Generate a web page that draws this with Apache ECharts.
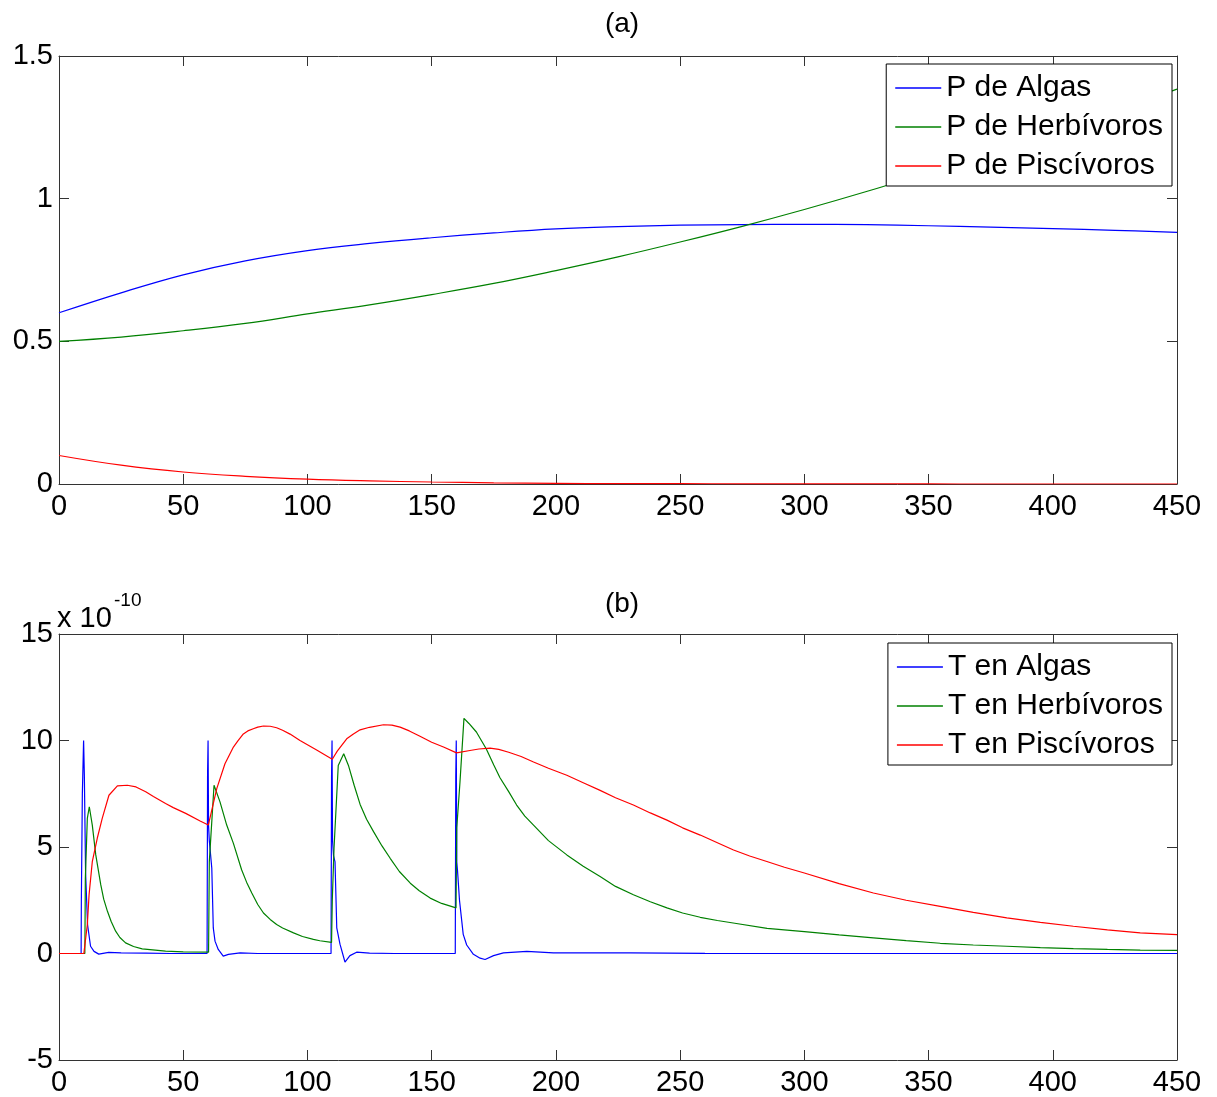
<!DOCTYPE html>
<html>
<head>
<meta charset="utf-8">
<script src="https://cdn.jsdelivr.net/npm/echarts@6/dist/echarts.min.js"></script>
<style>
html,body{margin:0;padding:0;background:#fff;}
#c{width:1217px;height:1097px;}
</style>
</head>
<body>
<div id="c"></div>
<script>
// ---------- Panel (a): populations ----------
const tA = [0,25,50,75,100,125,150,175,200,225,250,275,300,325,350,375,400,425,450];
const pAlgas = [0.600,0.670,0.733,0.782,0.818,0.843,0.863,0.880,0.894,0.902,0.907,0.909,0.910,0.909,0.905,0.900,0.895,0.889,0.882];
const pHerb  = [0.500,0.515,0.537,0.563,0.596,0.628,0.664,0.703,0.748,0.796,0.848,0.903,0.962,1.025,1.092,1.160,1.232,1.306,1.384];
const pPisc  = [0.100,0.066,0.042,0.027,0.017,0.011,0.007,0.004,0.002,0.001,0.001,0.0005,0.0003,0.0002,0.0001,0,0,0,0];
const namesA = ['P de Algas','P de Herbívoros','P de Piscívoros'];

// ---------- Panel (b): toxin (units of 1e-10) ----------
const tAlgasT = [0,8.9,9.0,9.4,9.9,10.2,10.7,11.5,12.7,14.1,16,20,25,35,45,59.6,
  59.8,60.0,60.2,60.5,61.5,62.1,62.8,64.1,66.1,68.2,72.9,80,90,100,109.5,
  109.7,109.9,110.1,110.5,111.1,111.8,113.1,115.1,117.1,119.8,125,135,145,155,159.5,
  159.7,159.9,160.1,160.4,161.2,162.7,164.1,166.8,169.5,171.5,174.9,178.9,188.3,199,230,260,300,350,400,450];
const vAlgasT = [0,0,2.5,7.5,10,8.4,3.8,1.35,0.34,0.1,-0.03,0.05,0.03,0.02,0,0,
  8.4,10,6,5.3,4.0,1.2,0.58,0.19,-0.12,-0.04,0.03,0,0,0,0,
  8.3,10,5.3,4.6,4.3,1.2,0.44,-0.4,-0.1,0.06,0.02,0,0,0,0,
  8.3,10,4.3,3.9,2.5,0.9,0.4,-0.04,-0.22,-0.28,-0.1,0.03,0.1,0.03,0.03,0.01,0,0,0,0];

const tHerbT = [0,10.4,10.6,11.4,12.2,13.4,14.8,16.8,18,19.5,21,22.8,24.5,26.8,30,33.5,42.9,50,60.2,
  60.5,62.4,62.8,64.8,67.5,70.2,73.5,75.5,77.6,80,82.3,85,87.6,90,94.4,98,102.4,105,109.7,
  110.0,110.7,112.4,113.1,114.6,116.5,118.8,121.2,123.8,126.6,130,133.3,137,141.4,145,149.4,154,159.8,
  160.1,161.4,163.0,165,168,172,175,177.5,181,184.2,187.5,191.0,197,204.4,211,217.8,224,231.2,238,244.7,251,258.1,265,272,285,300,314,327.8,341,354.7,368,381.5,395,408.3,422,435.2,450];
const vHerbT = [0,0,3.5,6.34,6.89,6.03,4.63,3.23,2.55,1.98,1.5,1.05,0.75,0.5,0.33,0.22,0.11,0.08,0.06,
  4.3,7.9,7.93,7.12,6.03,5.17,3.93,3.35,2.84,2.3,1.9,1.6,1.36,1.2,0.97,0.8,0.66,0.6,0.52,
  2.5,4.94,8.83,9.0,9.38,8.83,7.9,7.0,6.3,5.72,5.05,4.47,3.85,3.3,2.95,2.6,2.35,2.14,
  5.9,8.05,11.04,10.8,10.4,9.6,8.85,8.25,7.6,6.97,6.45,6.03,5.3,4.63,4.1,3.62,3.15,2.76,2.43,2.14,1.9,1.70,1.55,1.42,1.18,1.03,0.87,0.73,0.6,0.48,0.4,0.34,0.28,0.23,0.19,0.16,0.15];

const tPiscT = [0,10.0,11.4,12.1,13.4,15.4,17.4,20.1,23.5,27.5,31,34.9,38,42.9,46,51,56.8,60.1,
  63.5,66.8,70.2,72,74.2,76,78.2,80,82.3,85,87.6,90,93,97,103.7,110.0,
  112,115.8,118.5,121.2,125,130.6,134,137.3,141,145.3,150,155,160.0,165.4,169,173.5,177,181,186,191.0,197,204.4,211,217.8,224,231.2,238,244.7,251,258.1,265,271.5,278,284.9,292,300,314,327.8,341,354.7,368,381.5,395,408.3,422,435.2,450];
const vPiscT = [0,0,1.35,2.75,4.31,5.41,6.34,7.43,7.87,7.9,7.82,7.59,7.37,7.04,6.85,6.58,6.22,6.03,
  7.74,8.91,9.69,9.98,10.31,10.45,10.55,10.63,10.68,10.67,10.6,10.48,10.3,10.0,9.55,9.12,
  9.5,10.08,10.31,10.5,10.62,10.74,10.72,10.63,10.45,10.2,9.92,9.68,9.42,9.53,9.6,9.64,9.58,9.45,9.25,8.99,8.7,8.37,8.02,7.66,7.31,6.97,6.6,6.26,5.9,5.56,5.2,4.86,4.58,4.32,4.05,3.78,3.28,2.84,2.5,2.21,1.93,1.67,1.46,1.28,1.11,0.97,0.89];
const namesB = ['T en Algas','T en Herbívoros','T en Piscívoros'];

const xTicks = {min:0, max:450, interval:50};
const yTicksA = {min:0, max:1.5, interval:0.5};
const yTicksB = {min:-5, max:15, interval:5};

const colors = ['#0000ff','#008000','#ff0000'];
const FONT = '"Liberation Sans", Arial, Helvetica, sans-serif';
const AX = '#333333';

function zip(t, v){ return t.map((x,i)=>[x, v[i]]); }

function xAxisDef(grid, pos, showLabel){
  return Object.assign({
    gridIndex: grid, type:'value', position: pos,
    axisLine:{show:true, onZero:false, lineStyle:{color:AX, width:1}},
    axisTick:{show:true, inside:true, length:10, lineStyle:{color:AX, width:1}},
    axisLabel:{show:showLabel, fontSize:29, color:'#000', margin:8, fontFamily:FONT},
    splitLine:{show:false}
  }, xTicks);
}
function yAxisDef(grid, pos, showLabel, ticks){
  return Object.assign({
    gridIndex: grid, type:'value', position: pos,
    axisLine:{show:true, onZero:false, lineStyle:{color:AX, width:1}},
    axisTick:{show:true, inside:true, length:10, lineStyle:{color:AX, width:1}},
    axisLabel:{show:showLabel, fontSize:29, color:'#000', margin:6, fontFamily:FONT},
    splitLine:{show:false}
  }, ticks);
}
function lineSeries(name, data, xi, yi, color, smooth){
  return {name, type:'line', data, xAxisIndex:xi, yAxisIndex:yi, showSymbol:false, symbol:'none',
    smooth: smooth, lineStyle:{color, width:1.2}, itemStyle:{color}, silent:true, z:3};
}
function legendDef(names, top){
  return {data:names, orient:'vertical', right:45, top:top, backgroundColor:'#fff',
    borderColor:'#000', borderWidth:1, borderRadius:0, padding:[9,9,5,9],
    icon:'rect', itemWidth:46, itemHeight:1.3, itemGap:9,
    textStyle:{fontSize:30, color:'#000', fontFamily:FONT}};
}

const chart = echarts.init(document.getElementById('c'), null, {renderer:'canvas'});
chart.setOption({
  animation:false,
  backgroundColor:'#fff',
  title:[
    {text:'(a)', left:617, top:5, textAlign:'center',
     textStyle:{fontSize:28, fontWeight:'normal', color:'#000', fontFamily:FONT}},
    {text:'(b)', left:617, top:585, textAlign:'center',
     textStyle:{fontSize:28, fontWeight:'normal', color:'#000', fontFamily:FONT}}
  ],
  grid:[
    {left:59, top:56, width:1118, height:428},
    {left:59, top:634, width:1118, height:428}
  ],
  xAxis:[ xAxisDef(0,'bottom',true), xAxisDef(0,'top',false), xAxisDef(1,'bottom',true), xAxisDef(1,'top',false) ],
  yAxis:[ yAxisDef(0,'left',true,yTicksA), yAxisDef(0,'right',false,yTicksA), yAxisDef(1,'left',true,yTicksB), yAxisDef(1,'right',false,yTicksB) ],
  legend:[ legendDef(namesA, 64), legendDef(namesB, 643) ],
  graphic:[
    {type:'text', left:57, top:604, style:{text:'x 10', fontSize:29, fill:'#000', fontFamily:FONT}},
    {type:'text', left:114, top:591, style:{text:'-10', fontSize:19, fill:'#000', fontFamily:FONT}}
  ],
  series:[
    lineSeries(namesA[0], zip(tA,pAlgas), 0, 0, colors[0], 0.4),
    lineSeries(namesA[1], zip(tA,pHerb), 0, 0, colors[1], 0.4),
    lineSeries(namesA[2], zip(tA,pPisc), 0, 0, colors[2], 0.4),
    lineSeries(namesB[0], zip(tAlgasT,vAlgasT), 2, 2, colors[0], false),
    lineSeries(namesB[1], zip(tHerbT,vHerbT), 2, 2, colors[1], false),
    lineSeries(namesB[2], zip(tPiscT,vPiscT), 2, 2, colors[2], false)
  ]
});
</script>
</body>
</html>
